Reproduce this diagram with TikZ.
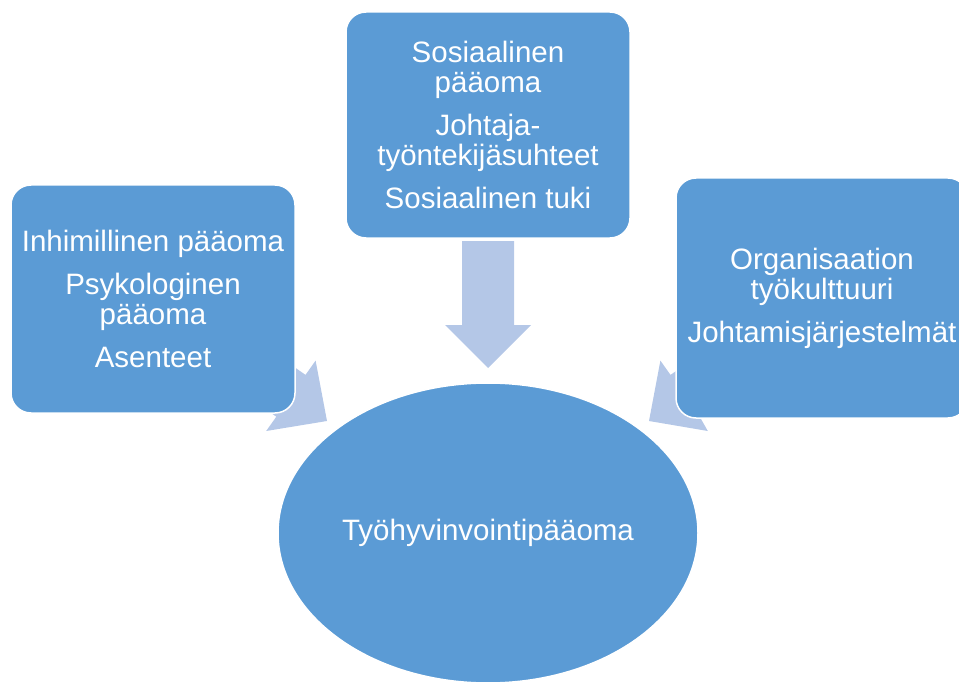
\documentclass[tikz,border=0pt]{standalone}
\usepackage{fontspec}
\setmainfont{Liberation Sans}
\usetikzlibrary{shapes.geometric}
\definecolor{boxblue}{HTML}{5B9BD5}
\definecolor{arrowblue}{HTML}{B4C7E7}
\tikzset{
  box/.style={draw=white, line width=1.5pt, fill=boxblue, rounded corners=20pt,
    text=white, align=center, inner sep=0pt, font=\fontsize{29.5}{30}\selectfont},
  oval/.style={ellipse, draw=white, line width=1.5pt, fill=boxblue, text=white,
    inner sep=0pt, font=\fontsize{29.5}{30}\selectfont},
  blockarrow/.style={fill=arrowblue, draw=none},
}
\begin{document}
\begin{tikzpicture}[x=1pt,y=-1pt]
\useasboundingbox (0,0) rectangle (959,682);
% block arrows (behind boxes)
\fill[blockarrow] (462,241) -- (514,241) -- (514,325) -- (531,325) -- (488,368) -- (445,325) -- (462,325) -- cycle;
\fill[blockarrow] (169.8,342.1) -- (276.3,416.7) -- (266.2,431.0) -- (327,421) -- (315.6,360.6) -- (305.5,374.9) -- (199.0,300.3) -- cycle;
\fill[blockarrow] (806.2,342.1) -- (699.7,416.7) -- (707.8,431.0) -- (649,421) -- (660.4,360.6) -- (670.5,374.9) -- (777.0,300.3) -- cycle;
% boxes
\node[box, minimum width=284pt, minimum height=226pt] (social) at (488,125)
  {Sosiaalinen\\pääoma\\[13pt]Johtaja-\\työntekijäsuhteet\\[13pt]Sosiaalinen tuki};
\node[box, minimum width=284pt, minimum height=228pt] (human) at (153,299)
  {Inhimillinen pääoma\\[13pt]Psykologinen\\pääoma\\[13pt]Asenteet};
\node[box, minimum width=292pt, minimum height=240pt] (org) at (822,298)
  {Organisaation\\työkulttuuri\\[13pt]Johtamisjärjestelmät};
\node[oval, minimum width=420pt, minimum height=300pt] (wellbeing) at (488,533)
  {Työhyvinvointipääoma};
\end{tikzpicture}
\end{document}
